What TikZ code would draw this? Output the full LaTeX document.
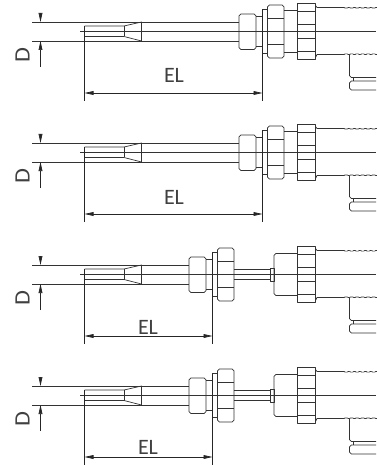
\documentclass[tikz,border=0pt]{standalone}
\usepackage{fontspec}
\setmainfont{Carlito}
\usetikzlibrary{arrows.meta}
\tikzset{
  x=1pt,y=-1pt,
  part/.style={draw=black!80,line width=0.7pt,line join=round},
  soft/.style={part,rounded corners=1.8pt},
  dimline/.style={draw=black!85,line width=0.7pt},
  dimtip/.style={-{Triangle[length=9pt,width=3.8pt]}},
  lbl/.style={font=\fontsize{22}{22}\selectfont,inner sep=0pt,text=black!75},
  tipset/.pic={
    \draw[part] (32,22) -- (#1,22);
    \draw[part] (32,41) -- (#1,41);
    \draw[part] (80,31.5) -- (376,31.5);
    \draw[part] (84.5,36.5) -- (124,36.5) -- (141.5,41) -- (141.5,22) -- (124,26) -- (84.5,26);
    \draw[part] (124,26) -- (124,36.5);
  },
  nutpair/.pic={
    \draw[soft] (239,14) rectangle (256,49.5);
    \draw[part] (256,16) -- (262.5,16);
    \draw[part] (256,46.5) -- (262.5,46.5);
    \draw[part] (262.5,53) -- (262.5,9.5) -- (267.5,9.5);
    \draw[part] (262.5,53) -- (267.5,53);
    \draw[soft] (267.5,5) rectangle (284,58);
    \draw[part] (267.5,18) -- (284,18);
    \draw[part] (267.5,44.5) -- (284,44.5);
  },
  rear/.pic={
    \draw[part] (297.5,3.5) rectangle (315.5,59.5);
    \foreach \yy in {11.5,24.5,38.5,51.5} {\draw[part] (297.5,\yy) -- (315.5,\yy);}
    \draw[part] (315.5,5.5) -- (317,7.5) -- (344,7.5);
    \draw[part] (315.5,57.5) -- (317,54.5) -- (344,54.5);
    \foreach \xx in {344,349.5,355,360.5,366,371.5} {
      \draw[part] (\xx,7.5) -- ++(1.2,0.6) -- ++(2,0) -- ++(1,-0.6) -- ++(1.3,0);
      \draw[part] (\xx,54.5) -- ++(1.2,-0.6) -- ++(2,0) -- ++(1,0.6) -- ++(1.3,0);
    }
    \draw[soft] (349.5,54.5) -- (349.5,77.5) -- (376,77.5);
    \draw[part] (353.5,77.5) -- (353.5,81);
    \draw[soft] (376,81) -- (349.5,81) -- (349.5,90) -- (376,90);
  },
  neckshort/.pic={
    \draw[part] (284,10.5) -- (297.5,10.5);
    \draw[part] (284,52.5) -- (297.5,52.5);
  },
  necklong/.pic={
    \draw[part] (234,26.5) -- (270.5,26.5);
    \draw[part] (234,36.5) -- (270.5,36.5);
    \draw[part] (270.5,25) rectangle (274,38);
    \draw[soft] (297.5,10.5) -- (274,10.5) -- (274,52.5) -- (297.5,52.5);
  },
  dims/.pic={
    \coordinate (-dtop) at (40.5,13);
    \coordinate (-da) at (40.5,22);
    \coordinate (-db) at (40.5,41);
    \coordinate (-dend) at (40.5,67);
    \coordinate (-lft) at (84.5,26);
    \coordinate (-lfe) at (84.5,101);
    \coordinate (-la) at (84.5,93);
    \coordinate (-rgt) at (#1,9.5);
    \coordinate (-rge) at (#1,101);
    \coordinate (-ra) at (#1,93);
    \draw[dimline,dimtip] (-dtop) -- (-da);
    \draw[dimline,dimtip] (-dend) -- (-db);
    \draw[dimline] (-lft) -- (-lfe);
    \draw[dimline] (-rgt) -- (-rge);
    \draw[dimline,{Triangle[length=9pt,width=3.8pt]}-{Triangle[length=9pt,width=3.8pt]}] (-la) -- (-ra);
    \node[lbl,rotate=90,xscale=1.1] (-d) at (22.5,55.5) {D};
  },
}
\begin{document}
\begin{tikzpicture}
\useasboundingbox (0,0) rectangle (376,465);
% row 1
\pic at (0,0) {tipset=239};
\pic at (0,0) {nutpair};
\pic at (0,0) {neckshort};
\pic at (0,0) {rear};
\pic (ra) at (0,0) {dims=262.5};
\node[lbl] (ela) at (174,75.5) {EL};
% row 2
\pic at (0,121) {tipset=239};
\pic at (0,121) {nutpair};
\pic at (0,121) {neckshort};
\pic at (0,121) {rear};
\pic (rb) at (0,121) {dims=262.5};
\node[lbl] (elb) at (174,197) {EL};
% row 3
\pic at (0,243) {tipset=189};
\pic at (-50,243) {nutpair};
\pic at (0,243) {necklong};
\pic at (0,243) {rear};
\pic (rc) at (0,243) {dims=212.5};
\node[lbl] (elc) at (148,327) {EL};
% row 4
\pic at (0,364) {tipset=189};
\pic at (-50,364) {nutpair};
\pic at (0,364) {necklong};
\pic at (0,364) {rear};
\pic (rd) at (0,364) {dims=212.5};
\node[lbl] (eld) at (148,447.5) {EL};
\end{tikzpicture}
\end{document}
